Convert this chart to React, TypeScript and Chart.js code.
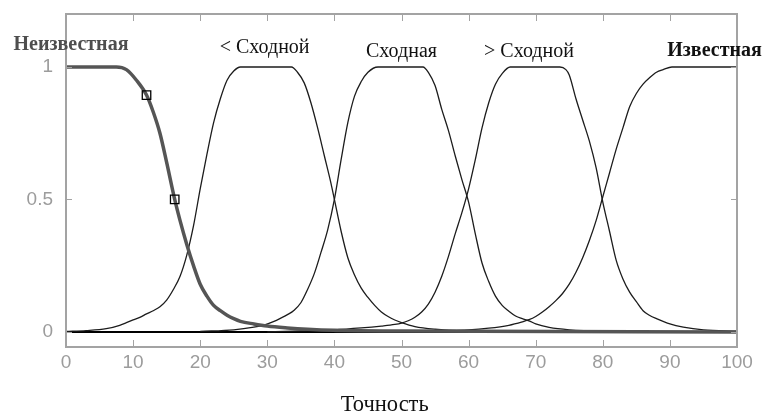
import React, { useEffect, useRef } from "react";
import { Chart, registerables } from "chart.js";

Chart.register(...registerables);

// ---- data ----
const xTickValues = [0, 10, 20, 30, 40, 50, 60, 70, 80, 90, 100];
const yTickValues = [0, 0.5, 1];

const termNames = ["Неизвестная", "< Сходной", "Сходная", "> Сходной", "Известная"];
const axisTitle = "Точность";

const unknownX = [0, 7.5, 9, 10.5, 12, 13, 14, 15, 16.2, 17, 18, 19, 20, 21, 22, 23, 24, 25, 26, 28, 30, 33, 36, 40, 50, 100];
const unknownY = [1, 1, 0.99, 0.95, 0.894, 0.83, 0.75, 0.64, 0.5, 0.42, 0.33, 0.25, 0.18, 0.135, 0.1, 0.08, 0.063, 0.05, 0.04, 0.03, 0.022, 0.015, 0.01, 0.006, 0.003, 0];

const lessX = [0, 3, 6, 8, 9, 10, 11, 12, 13, 14, 15, 16, 17, 18, 19, 20, 21, 22, 23, 24, 25, 26, 33.6, 34.5, 35.5, 36.5, 37.5, 38.5, 39.5, 40, 41, 42, 43, 44, 45, 46, 47, 48, 49, 50, 52, 55, 60, 100];
const lessY = [0.002, 0.005, 0.012, 0.025, 0.035, 0.045, 0.055, 0.068, 0.08, 0.095, 0.12, 0.16, 0.21, 0.29, 0.4, 0.54, 0.67, 0.79, 0.88, 0.95, 0.985, 1, 1, 0.98, 0.94, 0.865, 0.77, 0.665, 0.56, 0.5, 0.38, 0.28, 0.215, 0.165, 0.13, 0.1, 0.075, 0.058, 0.045, 0.035, 0.02, 0.01, 0.003, 0];

const simX = [20, 25, 28, 29.5, 31, 32, 33, 34, 35, 36, 37, 38, 39, 40, 41, 42, 43, 44, 45, 46.5, 53.2, 54, 55, 56, 57, 58, 59, 60, 61, 62, 63, 64, 65, 66, 67, 68, 69, 70, 72, 75, 80, 100];
const simY = [0.002, 0.008, 0.018, 0.026, 0.04, 0.052, 0.065, 0.082, 0.11, 0.16, 0.22, 0.3, 0.385, 0.5, 0.65, 0.79, 0.89, 0.945, 0.98, 1, 1, 0.98, 0.93, 0.84, 0.76, 0.665, 0.575, 0.49, 0.37, 0.26, 0.19, 0.135, 0.1, 0.078, 0.06, 0.05, 0.042, 0.03, 0.017, 0.008, 0.003, 0];

const moreX = [30, 35, 40, 44, 47, 49, 50, 51, 52, 53, 54, 55, 56, 57, 58, 59, 60, 61, 62, 63, 64, 65, 66.2, 73.6, 74.5, 75, 76, 77, 78, 79, 80, 81, 82, 83, 84, 85, 86, 87, 88, 90, 92, 95, 100];
const moreY = [0, 0.004, 0.008, 0.015, 0.022, 0.028, 0.033, 0.042, 0.055, 0.075, 0.105, 0.15, 0.21, 0.285, 0.37, 0.45, 0.54, 0.65, 0.77, 0.865, 0.935, 0.975, 1, 1, 0.99, 0.97, 0.88, 0.8, 0.72, 0.62, 0.49, 0.38, 0.27, 0.2, 0.15, 0.114, 0.08, 0.062, 0.05, 0.03, 0.018, 0.008, 0.003];

const knownX = [40, 50, 60, 63, 66, 68, 69, 70, 71, 72, 73, 74, 75, 76, 77, 78, 79, 80, 81, 82, 83, 84, 85, 86, 87, 88, 89, 90.3, 100];
const knownY = [0, 0.003, 0.008, 0.014, 0.025, 0.038, 0.046, 0.058, 0.075, 0.095, 0.118, 0.145, 0.18, 0.225, 0.28, 0.345, 0.42, 0.51, 0.6, 0.69, 0.77, 0.85, 0.9, 0.935, 0.96, 0.98, 0.99, 1, 1];

const markerX = [12, 16.2];
const markerY = [0.894, 0.5];

const baseX = [0, 100];
const baseY = [0, 0];

// ---- annotation anchors (data coordinates) ----
const termLabelX = [0.74, 29.6, 50.0, 69.0, 96.65];
const termLabelY = [1.064, 1.051, 1.038, 1.038, 1.042];
const termLabelBold = [true, false, false, false, true];
const termLabelColor = ["#4e4e4e", "#111", "#111", "#111", "#111"];
const titleAnchor = { x: 47.5, y: -0.298 };

const pts = (xs: number[], ys: number[]) => xs.map((x, i) => ({ x, y: ys[i] }));

const BORDER = "#a3a3a3";
const SERIF = '"Liberation Serif", "Times New Roman", serif';
const SANS = '"Liberation Sans", Arial, sans-serif';

const decor = {
  id: "decor",
  afterDatasetsDraw(chart: any) {
    const { ctx, chartArea: a, scales } = chart;
    const x = scales.x;
    const y = scales.y;
    ctx.save();
    ctx.strokeStyle = BORDER;
    ctx.lineWidth = 2;
    ctx.strokeRect(a.left, a.top, a.right - a.left, a.bottom - a.top);
    ctx.lineWidth = 1;
    ctx.beginPath();
    for (const v of xTickValues) {
      if (v <= x.min || v >= x.max) continue;
      const px = Math.round(x.getPixelForValue(v)) + 0.5;
      ctx.moveTo(px, a.bottom);
      ctx.lineTo(px, a.bottom - 7);
      ctx.moveTo(px, a.top);
      ctx.lineTo(px, a.top + 7);
    }
    for (const v of yTickValues) {
      const py = Math.round(y.getPixelForValue(v)) + 0.5;
      ctx.moveTo(a.left, py);
      ctx.lineTo(a.left + 6, py);
      ctx.moveTo(a.right, py);
      ctx.lineTo(a.right - 6, py);
    }
    ctx.stroke();

    ctx.textAlign = "center";
    ctx.textBaseline = "alphabetic";
    termNames.forEach((t, i) => {
      ctx.font = `${termLabelBold[i] ? "bold " : ""}20px ${SERIF}`;
      ctx.fillStyle = termLabelColor[i];
      ctx.fillText(t, x.getPixelForValue(termLabelX[i]), y.getPixelForValue(termLabelY[i]));
    });
    ctx.font = `22.5px ${SERIF}`;
    ctx.fillStyle = "#111";
    ctx.fillText(axisTitle, x.getPixelForValue(titleAnchor.x), y.getPixelForValue(titleAnchor.y));
    ctx.restore();
  },
};

export default function App() {
  const ref = useRef<HTMLCanvasElement | null>(null);

  useEffect(() => {
    document.body.style.margin = "0";
    const canvas = ref.current;
    if (!canvas) return;
    const thin = { borderColor: "#1c1c1c", borderWidth: 1.3, pointRadius: 0, cubicInterpolationMode: "monotone" as const, fill: false, order: 2 };
    const chart = new Chart(canvas, {
      type: "line",
      data: {
        datasets: [
          {
            label: "markers",
            data: pts(markerX, markerY),
            showLine: false,
            pointStyle: "rect",
            pointRadius: 6,
            pointBorderColor: "#000",
            pointBackgroundColor: "rgba(0,0,0,0)",
            pointBorderWidth: 1.3,
            order: 0,
          } as any,
          {
            label: termNames[0],
            data: pts(unknownX, unknownY),
            borderColor: "#555",
            borderWidth: 3.5,
            pointRadius: 0,
            cubicInterpolationMode: "monotone",
            order: 1,
          },
          { label: termNames[1], data: pts(lessX, lessY), ...thin },
          { label: termNames[2], data: pts(simX, simY), ...thin },
          { label: termNames[3], data: pts(moreX, moreY), ...thin },
          { label: termNames[4], data: pts(knownX, knownY), ...thin },
          {
            label: "base",
            data: pts(baseX, baseY),
            borderColor: "#000",
            borderWidth: 2,
            pointRadius: 0,
            order: 3,
          },
        ],
      },
      options: {
        responsive: false,
        animation: false,
        layout: { padding: { left: 0, right: 29, top: 14, bottom: 0 } },
        plugins: { legend: { display: false }, tooltip: { enabled: false } },
        scales: {
          x: {
            type: "linear",
            min: 0,
            max: 100,
            afterBuildTicks: (s: any) => {
              s.ticks = xTickValues.map((v) => ({ value: v }));
            },
            afterFit: (s: any) => {
              s.height = 67;
            },
            grid: { display: false, drawTicks: false },
            border: { display: false },
            ticks: {
              autoSkip: false,
              maxRotation: 0,
              padding: 4,
              color: "#9c9c9c",
              font: { family: SANS, size: 19 },
            },
          },
          y: {
            type: "linear",
            min: -0.057,
            max: 1.2,
            afterBuildTicks: (s: any) => {
              s.ticks = yTickValues.map((v) => ({ value: v }));
            },
            afterFit: (s: any) => {
              s.width = 66;
              s.paddingTop = 0;
              s.paddingBottom = 0;
            },
            grid: { display: false, drawTicks: false },
            border: { display: false },
            ticks: {
              padding: 13,
              color: "#9c9c9c",
              font: { family: SANS, size: 19 },
              callback: (v: any) => String(v),
            },
          },
        },
      },
      plugins: [decor],
    });
    return () => chart.destroy();
  }, []);

  return (
    <div style={{ position: "absolute", left: 0, top: 0, width: 766, height: 414, background: "#fff" }}>
      <canvas ref={ref} width={766} height={414} style={{ display: "block" }} />
    </div>
  );
}
